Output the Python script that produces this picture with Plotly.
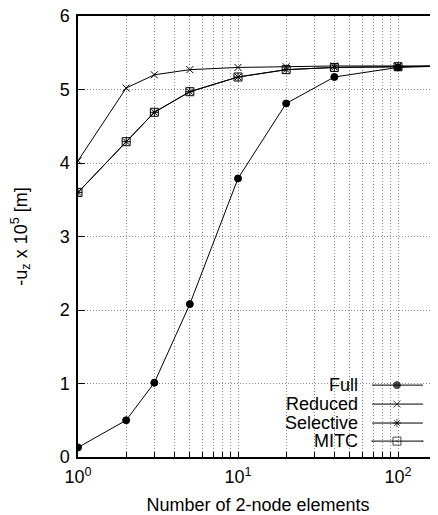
import plotly.graph_objects as go

n_elements = [1, 2, 3, 5, 10, 20, 40, 100, 200]
full = [0.13, 0.50, 1.01, 2.08, 3.79, 4.81, 5.17, 5.30, 5.32]
reduced = [4.03, 5.02, 5.20, 5.27, 5.30, 5.31, 5.32, 5.32, 5.32]
selective = [3.60, 4.29, 4.69, 4.97, 5.17, 5.27, 5.30, 5.31, 5.32]
mitc = [3.60, 4.29, 4.69, 4.97, 5.17, 5.27, 5.30, 5.31, 5.32]

series_names = ["Full", "Reduced", "Selective", "MITC"]

x_tickvals = [m * 10 ** k for k in range(3) for m in range(1, 10)]
x_ticktext = ["10<sup>%d</sup>" % k if m == 1 else "" for k in range(3) for m in range(1, 10)]
y_tickvals = [0, 1, 2, 3, 4, 5, 6]

FONT = "Liberation Sans, Arial, sans-serif"
symbols = ["circle", "x-thin-open", "asterisk-open", "square-open-dot"]
sizes = [7, 7, 7, 8]

fig = go.Figure()
for name, ys, sym, size in zip(series_names, [full, reduced, selective, mitc], symbols, sizes):
    fig.add_trace(go.Scatter(
        x=n_elements, y=ys, name=name, mode="lines+markers", showlegend=False,
        line=dict(color="black", width=1),
        marker=dict(symbol=sym, size=size, color="black",
                    line=dict(color="black", width=1)),
    ))

# gnuplot-style key: text right-aligned, sample line with marker to the right
key_box = dict(x0=0.506, x1=0.983, y0=0.0, y1=0.181)
fig.add_shape(type="rect", xref="paper", yref="paper", layer="between",
              fillcolor="white", line=dict(width=0), **key_box)
row_y = [0.163, 0.120, 0.077, 0.036]
for name, sym, size, ry in zip(series_names, symbols, sizes, row_y):
    fig.add_annotation(text=name, xref="paper", yref="paper", x=0.783, y=ry,
                       xanchor="right", yanchor="middle", showarrow=False,
                       height=18, valign="middle",
                       font=dict(family=FONT, size=18, color="black"))
    fig.add_trace(go.Scatter(
        x=[0.817, 0.886, 0.958], y=[ry, ry, ry], xaxis="x2", yaxis="y2",
        mode="lines+markers", showlegend=False, hoverinfo="skip",
        line=dict(color="black", width=1),
        marker=dict(symbol=sym, size=[0, size, 0], color="black",
                    line=dict(color="black", width=1)),
    ))

fig.update_layout(
    width=430, height=507,
    margin=dict(l=70, r=0, t=8, b=58),
    paper_bgcolor="white", plot_bgcolor="white",
    font=dict(family=FONT, size=18, color="black"),
    showlegend=False,
    xaxis2=dict(overlaying="x", range=[0, 1], visible=False, fixedrange=True),
    yaxis2=dict(overlaying="y", range=[0, 1], visible=False, fixedrange=True),
)
fig.update_layout(xaxis=dict(
    type="log", range=[0, 2.25], automargin=False,
    tickvals=x_tickvals, ticktext=x_ticktext,
    ticks="inside", ticklen=5, tickcolor="black", ticklabelstandoff=3,
    ticklabeloverflow="allow",
    showgrid=True, gridcolor="#8a8a8a", griddash="1px,2px", gridwidth=1,
    showline=True, linecolor="black", linewidth=1.5, mirror=True,
    tickfont=dict(size=18),
    title=dict(text="Number of 2-node elements", font=dict(size=18), standoff=18),
    zeroline=False,
))
fig.update_layout(yaxis=dict(
    range=[0, 6], tickvals=y_tickvals, automargin=False,
    ticks="inside", ticklen=7, tickcolor="black", ticklabelstandoff=3,
    ticklabeloverflow="allow",
    showgrid=True, gridcolor="#8a8a8a", griddash="1px,2px", gridwidth=1,
    showline=True, linecolor="black", linewidth=1.5, mirror=True,
    tickfont=dict(size=18),
    title=dict(text="-u<sub>z</sub> x 10<sup>5</sup> [m]", font=dict(size=18), standoff=35),
    zeroline=False,
))

fig.write_html("out.html")
